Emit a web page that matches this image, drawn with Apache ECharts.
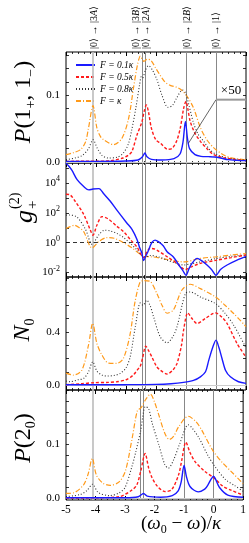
<!DOCTYPE html>
<html><head><meta charset="utf-8">
<script src="https://cdn.jsdelivr.net/npm/echarts@6/dist/echarts.min.js"></script>
<style>html,body{margin:0;padding:0;background:#fff}#c{width:249px;height:543px}</style>
</head><body><div id="c"></div>
<script>
// ---------- data ----------
const xTicks = [-5, -4, -3, -2, -1, 0, 1];
const transitions = [-4.1, -2.47, -2.37, -1, 0];
const transitionLabels = ['|0⟩ → |3{i|A}⟩', '|0⟩ → |3{i|B}⟩', '|0⟩ → |2{i|A}⟩', '|0⟩ → |2{i|B}⟩', '|0⟩ → |1⟩'];
const seriesNames = ['F = 0.1κ', 'F = 0.5κ', 'F = 0.8κ', 'F = κ'];

// Panel 1: P(1+,1-)
const p1Blue = [[-5,0.001],[-4,0.001],[-3,0.0015],[-2.6,0.003],[-2.45,0.008],[-2.37,0.0135],[-2.3,0.008],[-2.15,0.004],[-1.8,0.003],[-1.4,0.005],[-1.2,0.012],[-1.1,0.03],[-1.02,0.061],[-0.95,0.035],[-0.88,0.02],[-0.7,0.011],[-0.5,0.0085],[-0.25,0.008],[-0.05,0.0075],[0.15,0.006],[0.4,0.0035],[0.7,0.0025],[1,0.002]];
const p1Red = [[-5,0.001],[-4,0.0012],[-3.5,0.002],[-3.1,0.006],[-2.9,0.011],[-2.8,0.016],[-2.63,0.041],[-2.47,0.06],[-2.4,0.075],[-2.32,0.0855],[-2.25,0.075],[-2.15,0.05],[-2,0.033],[-1.86,0.0285],[-1.6,0.019],[-1.45,0.021],[-1.3,0.033],[-1.19,0.051],[-1.08,0.08],[-1.0,0.091],[-0.94,0.08],[-0.86,0.061],[-0.7,0.043],[-0.52,0.031],[-0.3,0.02],[-0.08,0.011],[0.3,0.006],[0.6,0.004],[1,0.002]];
const p1Black = [[-5,0.0035],[-4.7,0.006],[-4.45,0.01],[-4.25,0.02],[-4.1,0.0335],[-3.95,0.02],[-3.8,0.01],[-3.6,0.006],[-3.3,0.007],[-3.1,0.013],[-2.93,0.026],[-2.8,0.05],[-2.67,0.0815],[-2.55,0.115],[-2.49,0.128],[-2.45,0.126],[-2.35,0.138],[-2.25,0.1446],[-2.12,0.138],[-1.97,0.1236],[-1.8,0.1],[-1.6,0.082],[-1.45,0.085],[-1.3,0.097],[-1.12,0.108],[-1.02,0.104],[-0.9,0.085],[-0.75,0.0586],[-0.6,0.042],[-0.41,0.031],[-0.2,0.018],[0.03,0.011],[0.4,0.006],[0.7,0.004],[1,0.003]];
const p1Orange = [[-5,0.011],[-4.75,0.014],[-4.52,0.0185],[-4.35,0.03],[-4.25,0.051],[-4.1,0.0845],[-3.97,0.051],[-3.85,0.038],[-3.75,0.0335],[-3.41,0.026],[-3.13,0.036],[-2.91,0.066],[-2.75,0.111],[-2.62,0.145],[-2.52,0.159],[-2.45,0.153],[-2.4,0.151],[-2.3,0.154],[-2.17,0.1526],[-2.0,0.14],[-1.86,0.13],[-1.7,0.12],[-1.53,0.115],[-1.3,0.112],[-1.15,0.108],[-0.97,0.099],[-0.75,0.081],[-0.52,0.0515],[-0.3,0.033],[-0.08,0.0215],[0.2,0.012],[0.48,0.0065],[0.75,0.0045],[1,0.003]];

// Panel 2: g+^(2) (actual values, drawn on a log10 scale)
const g2Blue = [[-5,2.2e5],[-4.91,1.4e5],[-4.8,7.1e4],[-4.63,1.7e4],[-4.41,5.9e3],[-4.24,3.5e3],[-4.1,4.0e3],[-3.9,4.3e3],[-3.75,2.0e3],[-3.53,630],[-3.31,160],[-2.98,22],[-2.8,7.9],[-2.63,1.6],[-2.55,0.5],[-2.47,0.2],[-2.41,0.063],[-2.34,0.13],[-2.27,0.25],[-2.14,1.0],[-2.03,1.5],[-1.9,1.1],[-1.76,0.63],[-1.63,0.25],[-1.42,0.11],[-1.24,0.032],[-1.1,0.013],[-1.0,0.0066],[-0.9,0.018],[-0.8,0.041],[-0.63,0.089],[-0.45,0.056],[-0.3,0.032],[-0.15,0.016],[0,0.0066],[0.15,0.016],[0.37,0.032],[0.7,0.068],[1,0.12]];
const g2Red = [[-5,1800],[-4.86,1600],[-4.7,630],[-4.41,79],[-4.19,7.1],[-4.1,3.2],[-3.97,15],[-3.8,56],[-3.6,40],[-3.31,13],[-3.08,5.5],[-2.85,1.6],[-2.63,0.5],[-2.5,0.16],[-2.41,0.1],[-2.3,0.25],[-2.2,0.42],[-2.05,0.38],[-1.97,0.32],[-1.63,0.115],[-1.3,0.041],[-1.02,0.016],[-0.8,0.025],[-0.52,0.041],[0.03,0.068],[0.5,0.1],[1,0.15]];
const g2Black = [[-5,71],[-4.86,72],[-4.63,52],[-4.35,7.9],[-4.13,0.79],[-3.91,3.3],[-3.72,6.9],[-3.53,6.3],[-3.3,4.2],[-3.08,2.2],[-2.8,0.71],[-2.63,0.32],[-2.47,0.14],[-2.35,0.11],[-2.2,0.14],[-1.9,0.11],[-1.63,0.068],[-1.3,0.04],[-1.08,0.032],[-0.8,0.04],[-0.52,0.052],[0.03,0.089],[0.5,0.12],[1,0.15]];
const g2Orange = [[-5,8.9],[-4.86,12],[-4.72,15],[-4.55,10],[-4.41,5.5],[-4.13,0.45],[-3.91,1.2],[-3.64,2.2],[-3.4,2.0],[-3.1,1.05],[-2.8,0.45],[-2.55,0.18],[-2.41,0.115],[-2.2,0.115],[-1.7,0.079],[-1.08,0.052],[-0.52,0.089],[0.03,0.115],[0.5,0.15],[1,0.19]];

// Panel 3: N0
const n0Blue = [[-5,0.002],[-3,0.003],[-2,0.005],[-1.5,0.01],[-1.08,0.02],[-0.75,0.035],[-0.52,0.062],[-0.35,0.1],[-0.24,0.188],[-0.1,0.29],[0,0.338],[0.1,0.28],[0.2,0.2],[0.32,0.11],[0.48,0.062],[0.75,0.025],[1,0.013]];
const n0Red = [[-5,0.003],[-4.5,0.01],[-4.07,0.018],[-3.6,0.02],[-3.31,0.025],[-3.0,0.04],[-2.76,0.075],[-2.6,0.12],[-2.53,0.138],[-2.45,0.2],[-2.34,0.293],[-2.25,0.26],[-2.14,0.213],[-1.98,0.14],[-1.86,0.113],[-1.63,0.083],[-1.45,0.11],[-1.3,0.163],[-1.15,0.3],[-1.08,0.413],[-0.94,0.543],[-0.8,0.5],[-0.63,0.463],[-0.36,0.5],[-0.02,0.543],[0.2,0.51],[0.37,0.463],[0.7,0.313],[1,0.21]];
const n0Black = [[-5,0.03],[-4.86,0.025],[-4.6,0.04],[-4.41,0.05],[-4.25,0.1],[-4.11,0.175],[-3.97,0.105],[-3.8,0.075],[-3.64,0.068],[-3.4,0.072],[-3.19,0.088],[-3.0,0.13],[-2.86,0.213],[-2.69,0.438],[-2.52,0.618],[-2.43,0.6],[-2.31,0.638],[-2.2,0.6],[-2.08,0.513],[-1.86,0.363],[-1.63,0.318],[-1.45,0.36],[-1.3,0.438],[-1.02,0.688],[-0.86,0.7],[-0.5,0.66],[-0.02,0.613],[0.3,0.54],[0.59,0.45],[1,0.28]];
const n0Orange = [[-5,0.09],[-4.75,0.075],[-4.47,0.113],[-4.25,0.3],[-4.11,0.465],[-3.97,0.313],[-3.8,0.225],[-3.58,0.165],[-3.31,0.163],[-3.09,0.2],[-2.87,0.375],[-2.7,0.625],[-2.53,0.775],[-2.4,0.785],[-2.2,0.78],[-1.97,0.688],[-1.8,0.6],[-1.63,0.54],[-1.42,0.565],[-1.14,0.713],[-0.86,0.758],[-0.52,0.725],[-0.02,0.663],[0.3,0.6],[0.59,0.538],[1,0.44]];

// Panel 4: P(2_0)
const p2Blue = [[-5,0.001],[-3,0.001],[-2.55,0.003],[-2.37,0.009],[-2.25,0.004],[-1.8,0.002],[-1.4,0.005],[-1.2,0.014],[-1.1,0.03],[-1.0,0.061],[-0.92,0.04],[-0.8,0.022],[-0.52,0.012],[-0.3,0.017],[-0.19,0.025],[-0.08,0.036],[0,0.041],[0.07,0.035],[0.2,0.02],[0.48,0.006],[1,0.002]];
const p2Red = [[-5,0.0005],[-4,0.001],[-3.2,0.003],[-2.76,0.0155],[-2.6,0.025],[-2.47,0.05],[-2.32,0.083],[-2.2,0.056],[-2.1,0.04],[-1.9,0.022],[-1.64,0.0125],[-1.42,0.016],[-1.19,0.043],[-1.08,0.07],[-0.94,0.104],[-0.8,0.085],[-0.63,0.068],[-0.3,0.05],[0.03,0.037],[0.3,0.023],[0.59,0.015],[1,0.006]];
const p2Black = [[-5,0.003],[-4.52,0.007],[-4.3,0.014],[-4.1,0.026],[-3.91,0.011],[-3.53,0.005],[-3.2,0.01],[-3.0,0.02],[-2.76,0.06],[-2.64,0.085],[-2.47,0.125],[-2.31,0.17],[-2.2,0.166],[-2.08,0.139],[-1.86,0.1],[-1.65,0.062],[-1.53,0.056],[-1.35,0.072],[-1.14,0.102],[-0.86,0.136],[-0.52,0.114],[-0.2,0.08],[0.03,0.06],[0.4,0.035],[0.7,0.024],[1,0.013]];
const p2Orange = [[-5,0.009],[-4.75,0.01],[-4.41,0.0246],[-4.25,0.045],[-4.11,0.074],[-3.97,0.043],[-3.75,0.028],[-3.5,0.024],[-3.19,0.031],[-2.98,0.052],[-2.76,0.111],[-2.58,0.163],[-2.47,0.167],[-2.41,0.172],[-2.3,0.183],[-2.14,0.193],[-2.0,0.178],[-1.86,0.155],[-1.65,0.12],[-1.5,0.109],[-1.35,0.115],[-1.19,0.132],[-0.86,0.152],[-0.6,0.142],[-0.42,0.128],[-0.02,0.088],[0.3,0.066],[0.59,0.05],[1,0.027]];

// y-axis ticks / labels
const p1Ticks = [0,0.02,0.04,0.06,0.08,0.1,0.12,0.14,0.16];
const p1Labels = [0, 0.1];
const g2Ticks = [-2,-1,0,1,2,3,4,5];   // decades
const g2Labels = [-2,0,2,4];
const n0Ticks = [0,0.1,0.2,0.3,0.4,0.5,0.6,0.7,0.8];
const n0Labels = [0, 0.4];
const p2Ticks = [0,0.02,0.04,0.06,0.08,0.1,0.12,0.14,0.16,0.18,0.2];
const p2Labels = [0, 0.1];
const x50Diag = [[-0.92,0.028],[0,0.0935]];
const x50Bar = [[0,0.0935],[1,0.0935]];

// ---------- styling ----------
const FONT = '"Liberation Serif","DejaVu Serif",serif';
const colors = ['#1a1aff', '#ff1a1a', '#333333', '#ff9a1a'];
const dashes = ['solid', [3, 2], [1, 2], [5, 2, 1, 2]];
const widths = [1.4, 1.4, 1.1, 1.2];

const panels = [
  {data:[p1Blue,p1Red,p1Black,p1Orange], min:-0.0015, max:0.165, ticks:p1Ticks, labels:p1Labels, fmt:v=>v.toFixed(1), top:52, h:111, log:false},
  {data:[g2Blue,g2Red,g2Black,g2Orange], min:-2.3, max:5.35, ticks:g2Ticks, labels:g2Labels, fmt:v=>'10{sup|'+v+'}', top:163, h:114, log:true},
  {data:[n0Blue,n0Red,n0Black,n0Orange], min:-0.037, max:0.8126, ticks:n0Ticks, labels:n0Labels, fmt:v=>v.toFixed(1), top:277, h:113, log:false},
  {data:[p2Blue,p2Red,p2Black,p2Orange], min:-0.0031, max:0.2006, ticks:p2Ticks, labels:p2Labels, fmt:v=>v.toFixed(1), top:390, h:110, log:false}
];

const grid = panels.map(p => ({left:66, right:3, top:p.top, height:p.h, show:true, borderColor:'#000', borderWidth:1, backgroundColor:'transparent'}));

const xAxis = [];
const yAxis = [];
[0,1].forEach(side => {
  panels.forEach((p, i) => {
    xAxis.push({
      type:'value', gridIndex:i, min:xTicks[0], max:xTicks[xTicks.length-1], interval:1,
      position: side === 0 ? 'bottom' : 'top',
      axisLine:{show:false, onZero:false},
      axisTick:{show:true, inside:true, length:4, lineStyle:{color:'#000', width:1}},
      minorTick:{show:true, splitNumber:5, length:2, lineStyle:{color:'#000', width:0.8}},
      splitLine:{show:false}, minorSplitLine:{show:false},
      axisLabel:{show: side === 0 && i === 3, margin:4, fontFamily:FONT, fontSize:11.5, color:'#000'}
    });
    yAxis.push({
      type:'value', gridIndex:i, min:p.min, max:p.max,
      position: side === 0 ? 'left' : 'right',
      axisLine:{show:false, onZero:false}, splitLine:{show:false},
      axisTick:{show:true, inside:true, length:3, customValues:p.ticks, lineStyle:{color:'#000', width:0.8}},
      axisLabel:{show: side === 0, customValues:p.labels, formatter:p.fmt, margin:6, fontFamily:FONT, fontSize:11, color:'#000',
        rich:{sup:{fontSize:8, fontFamily:FONT, verticalAlign:'top', lineHeight:7, color:'#000'}}, lineHeight:16}
    });
  });
});

const series = [];
panels.forEach((p, i) => {
  const ml = transitions.map((v, k) => ({xAxis:v, lineStyle:{color: k === 0 ? '#bbbbbb' : '#888888', width: k === 0 ? 1.6 : 1, type:'solid'}}));
  if (p.log) ml.push({yAxis:0, lineStyle:{color:'#000', width:0.8, type:[4,3]}});
  else ml.push({yAxis:0, lineStyle:{color:'#cccccc', width:1, type:'solid'}});
  series.push({type:'line', xAxisIndex:i, yAxisIndex:i, data:[], silent:true, z:1,
    markLine:{silent:true, symbol:'none', label:{show:false}, animation:false, data:ml}});
  p.data.forEach((d, c) => {
    series.push({
      name: seriesNames[c], type:'line', xAxisIndex:i, yAxisIndex:i,
      data: p.log ? d.map(pt => [pt[0], Math.log10(pt[1])]) : d,
      symbol:'none', smooth:0.3, silent:true, z: 5 + (3 - c),
      lineStyle:{color:colors[c], width:widths[c], type:dashes[c]},
      itemStyle:{color:colors[c]}
    });
  });
});
series.push({type:'line', xAxisIndex:0, yAxisIndex:0, data:x50Diag, symbol:'none', silent:true, z:9, lineStyle:{color:'#222', width:0.7}});
series.push({type:'line', xAxisIndex:0, yAxisIndex:0, data:x50Bar, symbol:'none', silent:true, z:9, lineStyle:{color:'#999', width:2}});

const option = {
  animation:false,
  backgroundColor:'#fff',
  grid, xAxis, yAxis, series,
  legend:{
    data: seriesNames, orient:'vertical', left:70, top:55, itemWidth:19, itemHeight:8, itemGap:2,
    itemStyle:{opacity:0},
    textStyle:{fontFamily:FONT, fontStyle:'italic', fontSize:9.5, color:'#000', lineHeight:9},
    selectedMode:false
  }
};

const chart = echarts.init(document.getElementById('c'));
chart.setOption(option);

// ---------- text annotations ----------
const labelShift = [1, -6, 1, 1, 0];
const gfx = [];
transitions.forEach((v, k) => {
  const px = chart.convertToPixel({xAxisIndex:0}, v);
  gfx.push({type:'text', x: px + labelShift[k], y: 49, rotation: Math.PI/2,
    style:{text: transitionLabels[k], fontFamily:FONT, fontSize:10, fill:'#000', align:'left', verticalAlign:'middle',
      rich:{i:{fontFamily:FONT, fontStyle:'italic', fontSize:10, fill:'#000'}}}});
});
const x50pos = chart.convertToPixel({gridIndex:0}, [0.5, x50Bar[0][1]]);
gfx.push({type:'text', x: x50pos[0], y: x50pos[1] - 9, style:{text:'×50', fontFamily:FONT, fontSize:13, fill:'#000', align:'center', verticalAlign:'middle'}});

const big = 24;
const rich = {
  i:{fontFamily:FONT, fontStyle:'italic', fontSize:big, lineHeight:28, fill:'#000'},
  n:{fontFamily:FONT, fontSize:big, lineHeight:28, fill:'#000'},
  s:{fontFamily:FONT, fontSize:14, lineHeight:8, verticalAlign:'bottom', fill:'#000'},
  p:{fontFamily:FONT, fontSize:14, lineHeight:8, verticalAlign:'top', fill:'#000'}
};
function rotTitle(x, y, text) {
  return {type:'text', x, y, rotation: Math.PI/2,
    style:{text, rich, fontFamily:FONT, fontSize:big, lineHeight:28, fill:'#000', align:'center', verticalAlign:'middle'}};
}
gfx.push(rotTitle(24, 102, '{i|P}{n|(1}{s|+}{n|, 1}{s|−}{n|)}'));
gfx.push({type:'group', x:25, y:210, rotation: Math.PI/2, children:[
  {type:'text', x:0, y:0, style:{text:'g', fontFamily:FONT, fontStyle:'italic', fontSize:26, fill:'#000', align:'right', verticalAlign:'middle'}},
  {type:'text', x:1, y:8, style:{text:'+', fontFamily:FONT, fontSize:15, fill:'#000', align:'left', verticalAlign:'middle'}},
  {type:'text', x:1, y:-10, style:{text:'(2)', fontFamily:FONT, fontSize:14, fill:'#000', align:'left', verticalAlign:'middle'}}
]});
gfx.push(rotTitle(23, 330, '{i|N}{s|0}'));
gfx.push(rotTitle(24, 438, '{i|P}{n|(2}{s|0}{n|)}'));
gfx.push({type:'text', x:181, y:524,
  style:{text:'{n|(}{i|ω}{s|0}{n| − }{i|ω}{n|)/}{i|κ}', rich:{
    i:{fontFamily:FONT, fontStyle:'italic', fontSize:19, lineHeight:24, fill:'#000'},
    n:{fontFamily:FONT, fontSize:19, lineHeight:24, fill:'#000'},
    s:{fontFamily:FONT, fontSize:12, lineHeight:8, verticalAlign:'bottom', fill:'#000'}},
    align:'center', verticalAlign:'middle'}});

chart.setOption({graphic: gfx});
</script>
</body></html>
